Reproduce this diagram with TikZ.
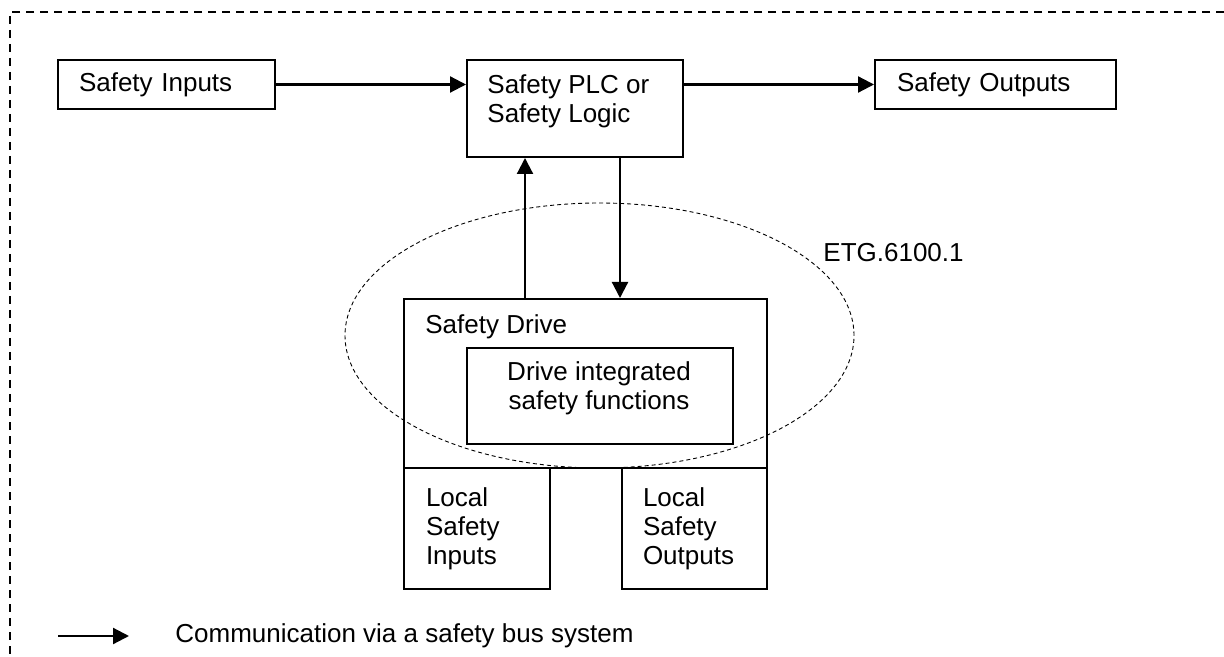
\documentclass[tikz,border=0pt]{standalone}
\usepackage{fontspec}
\setmainfont{Liberation Sans}
\usetikzlibrary{arrows.meta}

\tikzset{
  box/.style={draw, line width=1pt, inner sep=0pt, anchor=north west},
  txt/.style={align=left, anchor=west, inner sep=0pt},
  flow/.style={line width=1.1pt, -{Triangle[length=8pt,width=8pt]}},
  frame/.style={line width=0.7pt, dash pattern=on 4pt off 3pt},
  zone/.style={line width=0.45pt, dash pattern=on 2pt off 1.5pt}
}

\begin{document}
\begin{tikzpicture}[x=0.5pt, y=-0.5pt, font=\fontsize{13}{14.5}\selectfont]
                        \useasboundingbox (0,0) rectangle (1224,657);
                        \draw[frame] (1224,12) -- (10,12) -- (10,657);

                        \node[box, minimum width=108.5pt, minimum height=24.5pt, inner xsep=10.5pt, text width=87.5pt, align=left] (si) at (57,59) {Safety Inputs};
                        \node[box, minimum width=108pt, minimum height=48.5pt] (plc) at (466,59) {};
                        \node[txt] (plctext) at (487,101) {Safety PLC or\\Safety Logic};
                        \node[box, minimum width=120.5pt, minimum height=24.5pt, inner xsep=11pt, text width=98.5pt, align=left] (so) at (874,59) {Safety Outputs};

                        \node[box, minimum width=181.5pt, minimum height=84.5pt] (drive) at (403,298) {};
                        \node[txt] (drivetext) at (425,327) {Safety Drive};
                        \node[box, minimum width=133pt, minimum height=48pt] (func) at (466,347) {};
                        \node[align=center, inner sep=0pt] (functext) at (599,388) {Drive integrated\\safety functions};
                        \node[box, minimum width=73pt, minimum height=60.5pt, inner xsep=11pt, text width=51pt, align=left] (lsi) at (403,467) {Local\\Safety\\Inputs};
                        \node[box, minimum width=72.5pt, minimum height=60.5pt, inner xsep=10.5pt, text width=51.5pt, align=left] (lso) at (621,467) {Local\\Safety\\Outputs};

                        \draw[zone] (599.5,335.5) ellipse [x radius=127.25pt, y radius=66.25pt];
                        \node[txt] (etg) at (823,253) {ETG.6100.1};

                        \draw[flow] (si.east) -- (si.east -| plc.west);
                        \draw[flow] (plc.east |- so.west) -- (so.west);
                        \draw[flow] ([xshift=-25pt]plc.south |- drive.north) -- ([xshift=-25pt]plc.south);
                        \draw[flow] ([xshift=22.5pt]plc.south) -- ([xshift=22.5pt]plc.south |- drive.north);

                        \coordinate (lega) at (58,636);
                        \coordinate (legb) at (129,636);
                        \draw[flow] (lega) -- (legb);
                        \node[txt] (legend) at (175,636) {Communication via a safety bus system};
                    \end{tikzpicture}
\end{document}
